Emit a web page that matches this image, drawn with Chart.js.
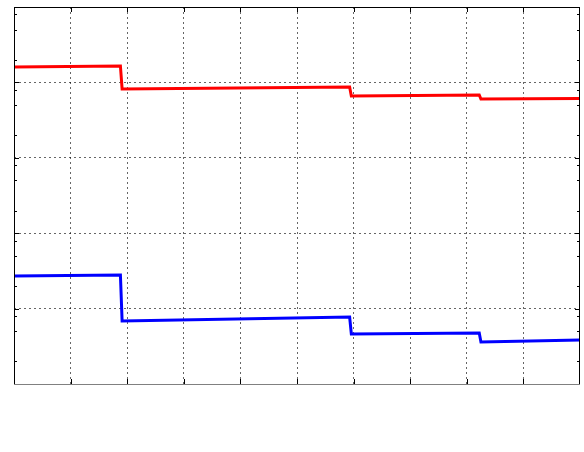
<!DOCTYPE html>
<html>
<head>
<meta charset="utf-8">
<script src="https://cdn.jsdelivr.net/npm/chart.js@4.4.0/dist/chart.umd.min.js"></script>
<style>
html,body{margin:0;padding:0;background:#fff;}
#wrap{width:584px;height:452px;}
</style>
</head>
<body>
<div id="wrap"><canvas id="c" width="584" height="452"></canvas></div>
<script>
// Data
const redX = [0, 1.88, 1.91, 5.93, 5.96, 8.22, 8.25, 10];
const redY = [0.160, 0.165, 0.0818, 0.0868, 0.0661, 0.0681, 0.0602, 0.0611];
const blueX = [0, 1.88, 1.91, 5.93, 5.96, 8.22, 8.25, 10];
const blueY = [2.71e-4, 2.79e-4, 6.85e-5, 7.74e-5, 4.61e-5, 4.74e-5, 3.61e-5, 3.83e-5];
const xMin = 0, xMax = 10, xStep = 1;
const yMin = 1e-5, yMax = 1;
const yDecades = [1e-5, 1e-4, 1e-3, 1e-2, 1e-1, 1];
const yMinorMultipliers = [2, 5, 8];

const toPts = (xs, ys) => xs.map((x, i) => ({x: x, y: ys[i]}));

const isDecade = v => Math.abs(Math.log10(v) - Math.round(Math.log10(v))) < 1e-9;

const framePlugin = {
  id: 'frame',
  afterDraw(chart) {
    const {ctx, chartArea: a, scales} = chart;
    const xs = scales.x, ys = scales.y;
    ctx.save();
    ctx.lineWidth = 1;
    ctx.strokeStyle = '#000';
    for (let v = xMin + xStep; v < xMax; v += xStep) {
      const px = Math.round(xs.getPixelForValue(v)) + 0.5;
      ctx.beginPath();
      ctx.moveTo(px, a.bottom); ctx.lineTo(px, a.bottom - 5);
      ctx.moveTo(px, a.top); ctx.lineTo(px, a.top + 5);
      ctx.stroke();
    }
    yDecades.forEach(d => {
      const py = Math.round(ys.getPixelForValue(d)) + 0.5;
      ctx.beginPath();
      ctx.moveTo(a.left, py); ctx.lineTo(a.left + 5, py);
      ctx.moveTo(a.right, py); ctx.lineTo(a.right - 5, py);
      ctx.stroke();
      if (d < yMax) {
        yMinorMultipliers.forEach(m => {
          const pm = Math.round(ys.getPixelForValue(d * m)) + 0.5;
          ctx.beginPath();
          ctx.moveTo(a.left, pm); ctx.lineTo(a.left + 3, pm);
          ctx.moveTo(a.right, pm); ctx.lineTo(a.right - 3, pm);
          ctx.stroke();
        });
      }
    });
    ctx.strokeStyle = '#000';
    ctx.beginPath();
    ctx.moveTo(Math.round(a.left) + 0.5, Math.round(a.bottom));
    ctx.lineTo(Math.round(a.left) + 0.5, Math.round(a.top) + 0.5);
    ctx.lineTo(Math.round(a.right) - 0.5, Math.round(a.top) + 0.5);
    ctx.lineTo(Math.round(a.right) - 0.5, Math.round(a.bottom));
    ctx.stroke();
    ctx.strokeStyle = '#808080';
    ctx.beginPath();
    ctx.moveTo(a.left, Math.round(a.bottom) + 0.5);
    ctx.lineTo(a.right, Math.round(a.bottom) + 0.5);
    ctx.stroke();
    ctx.restore();
  }
};

new Chart(document.getElementById('c'), {
  type: 'line',
  data: {
    datasets: [
      {data: toPts(redX, redY), borderColor: '#ff0000', borderWidth: 3, pointRadius: 0, fill: false, tension: 0},
      {data: toPts(blueX, blueY), borderColor: '#0000ff', borderWidth: 3, pointRadius: 0, fill: false, tension: 0}
    ]
  },
  options: {
    responsive: false,
    animation: false,
    layout: {padding: {left: 14, top: 7, right: 4, bottom: 68}},
    plugins: {legend: {display: false}, tooltip: {enabled: false}},
    scales: {
      x: {
        type: 'linear', min: xMin, max: xMax,
        ticks: {display: false, stepSize: xStep},
        grid: {
          drawTicks: false,
          color: ctx => (ctx.tick && ctx.tick.value > xMin && ctx.tick.value < xMax) ? 'rgba(0,0,0,0.6)' : 'rgba(0,0,0,0)',
          lineWidth: 1
        },
        border: {display: false, dash: [2, 3]}
      },
      y: {
        type: 'logarithmic', min: yMin, max: yMax,
        ticks: {display: false, autoSkip: false},
        grid: {
          drawTicks: false,
          color: ctx => (ctx.tick && isDecade(ctx.tick.value) && ctx.tick.value > yMin && ctx.tick.value < yMax) ? 'rgba(0,0,0,0.6)' : 'rgba(0,0,0,0)',
          lineWidth: 1
        },
        border: {display: false, dash: [2, 3]}
      }
    }
  },
  plugins: [framePlugin]
});
</script>
</body>
</html>
